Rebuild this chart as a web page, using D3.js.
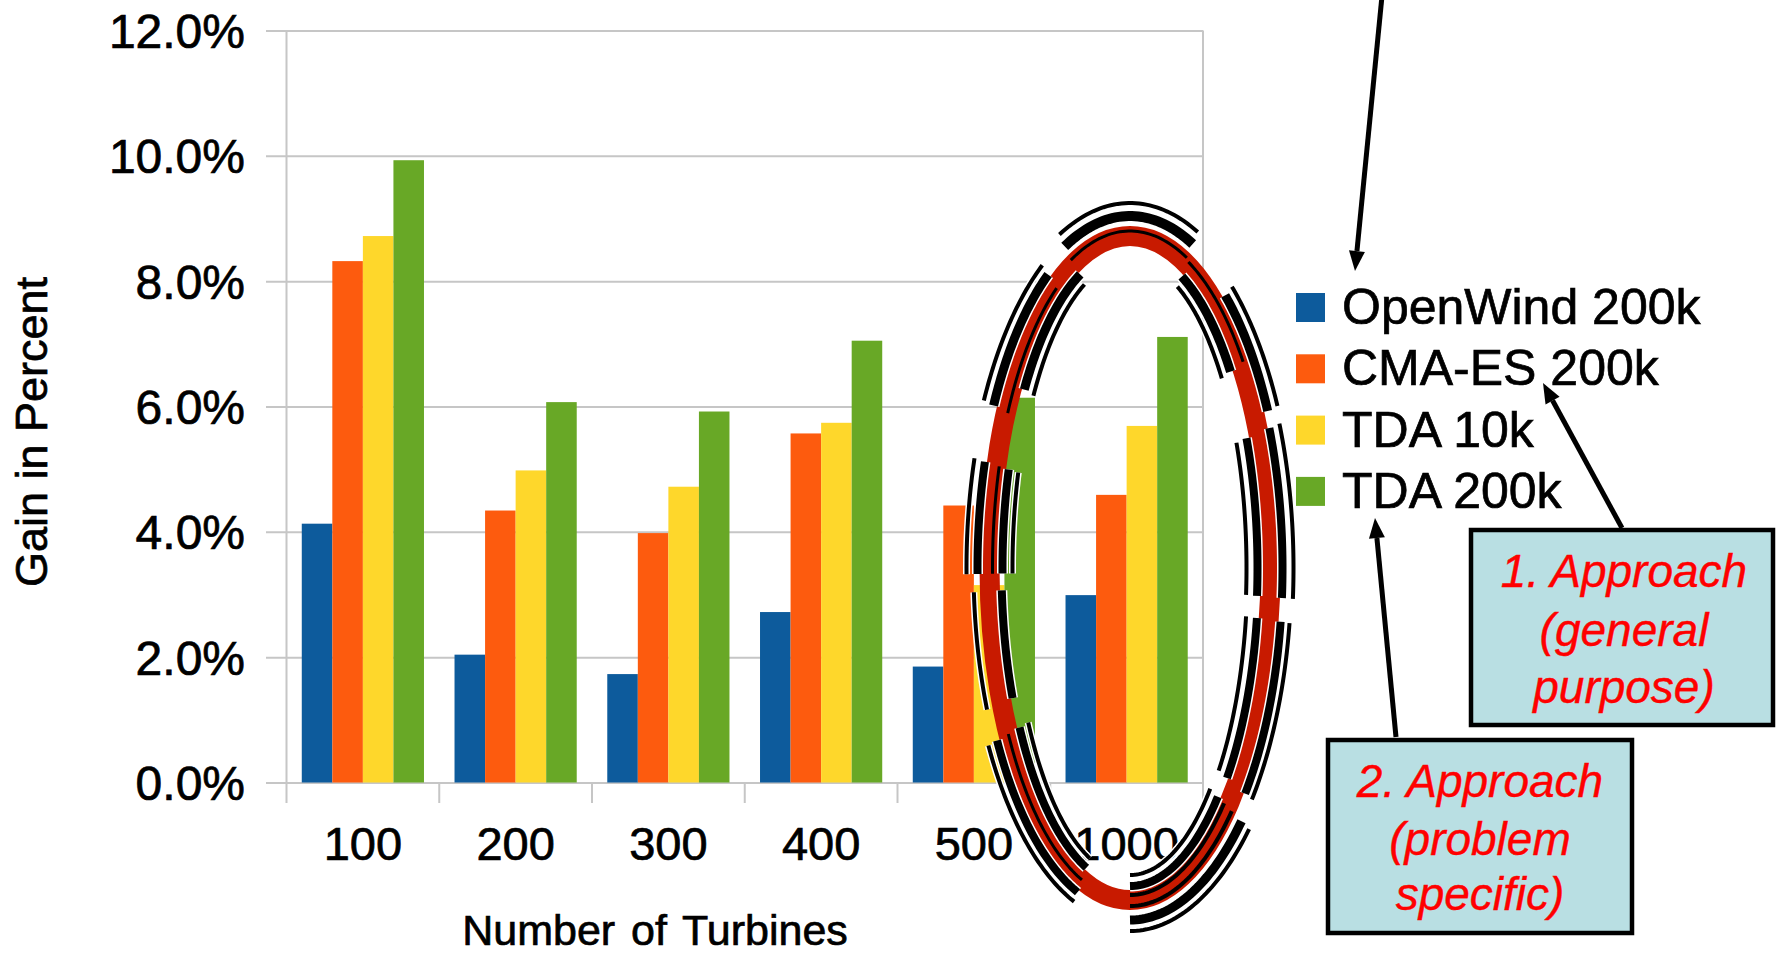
<!DOCTYPE html>
<html>
<head>
<meta charset="utf-8">
<script src="https://cdn.jsdelivr.net/npm/d3@7"></script>
<style>
  html, body { margin: 0; padding: 0; background: #ffffff; }
  svg { display: block; }
  text { font-family: "Liberation Sans", Arial, Helvetica, sans-serif; fill: #000; }
  .ink { stroke: #000; stroke-width: 0.7px; }
</style>
</head>
<body>
<svg id="chart" width="1777" height="953"></svg>
<script>
// ---- data -------------------------------------------------------------
const categories = ["100", "200", "300", "400", "500", "1000"];
const seriesNames = ["OpenWind 200k", "CMA-ES 200k", "TDA 10k", "TDA 200k"];
const openWind200k = [4.13, 2.04, 1.73, 2.72, 1.85, 2.99];
const cmaEs200k    = [8.32, 4.34, 3.98, 5.57, 4.42, 4.59];
const tda10k       = [8.72, 4.98, 4.72, 5.74, 3.15, 5.69];
const tda200k      = [9.93, 6.07, 5.92, 7.05, 6.14, 7.11];
const seriesColors = ["#0d5b9c", "#fd5b0e", "#fed72b", "#68a826"];
const yTicks = [0, 2, 4, 6, 8, 10, 12];
const xTitle = "Number of Turbines";
const yTitle = "Gain in Percent";
const noteGeneral = ["1. Approach", "(general", "purpose)"];
const noteSpecific = ["2. Approach", "(problem", "specific)"];

const seriesValues = [openWind200k, cmaEs200k, tda10k, tda200k];

// ---- layout -----------------------------------------------------------
const svg = d3.select("#chart");
const plot = { left: 286.5, right: 1203, top: 30.5, bottom: 782.5 };

const x = d3.scaleBand().domain(categories).range([plot.left, plot.right]).padding(0);
const bw = x.bandwidth();
const xs = d3.scaleBand().domain(seriesNames).range([0.1 * bw, 0.9 * bw]).padding(0);
const y = d3.scaleLinear().domain([0, 12]).range([plot.bottom, plot.top]);

const gridColor = "#c6c6c6";
const labelFont = "\"Liberation Sans\", Arial, sans-serif";

// horizontal gridlines + y tick labels
const yAxis = d3.axisLeft(y)
  .tickValues(yTicks)
  .tickSize(plot.right - 266)
  .tickPadding(21)
  .tickFormat(d => d.toFixed(1) + "%");
const gy = svg.append("g")
  .attr("transform", `translate(${plot.right},0)`)
  .call(yAxis);
gy.select(".domain").remove();
gy.selectAll(".tick line").attr("stroke", gridColor).attr("stroke-width", 2);
gy.selectAll(".tick text")
  .attr("class", "ink")
  .attr("dy", "0.355em")
  .style("font-size", "48px")
  .style("font-family", labelFont)
  .attr("fill", "#000");

// vertical frame lines and category separators
const boundaries = categories.map(c => x(c)).concat([plot.right]);
svg.append("g").selectAll("line")
  .data(boundaries)
  .join("line")
  .attr("x1", d => d).attr("x2", d => d)
  .attr("y1", (d, i) => (i === 0 || i === boundaries.length - 1) ? plot.top : plot.bottom)
  .attr("y2", plot.bottom + 20.5)
  .attr("stroke", gridColor)
  .attr("stroke-width", 2);

// bars
const barData = [];
categories.forEach((c, ci) => {
  seriesNames.forEach((s, si) => {
    barData.push({ cat: c, series: s, value: seriesValues[si][ci], color: seriesColors[si] });
  });
});
svg.append("g").selectAll("rect")
  .data(barData)
  .join("rect")
  .attr("x", d => x(d.cat) + xs(d.series))
  .attr("width", xs.bandwidth())
  .attr("y", d => y(d.value))
  .attr("height", d => y(0) - y(d.value))
  .attr("fill", d => d.color);

// x tick labels
const xAxis = d3.axisBottom(x).tickSize(0).tickPadding(44);
const gx = svg.append("g")
  .attr("transform", `translate(0,${plot.bottom})`)
  .call(xAxis);
gx.select(".domain").remove();
gx.selectAll(".tick text")
  .attr("class", "ink")
  .style("font-size", "47px")
  .style("font-family", labelFont)
  .attr("fill", "#000");

// axis titles
svg.append("text")
  .attr("class", "ink")
  .attr("x", 655).attr("y", 945)
  .attr("text-anchor", "middle")
  .style("font-size", "43px")
  .style("word-spacing", "4px")
  .text(xTitle);

svg.append("text")
  .attr("class", "ink")
  .attr("transform", "translate(47,432) rotate(-90)")
  .attr("text-anchor", "middle")
  .style("font-size", "45px")
  .text(yTitle);

// legend
const legend = svg.append("g").attr("transform", "translate(1296,293)");
const legendRow = legend.selectAll("g")
  .data(seriesNames)
  .join("g")
  .attr("transform", (d, i) => `translate(0,${i * 61.3})`);
legendRow.append("rect")
  .attr("width", 29).attr("height", 29)
  .attr("fill", (d, i) => seriesColors[i]);
legendRow.append("text")
  .attr("class", "ink")
  .attr("x", 46).attr("y", 31)
  .style("font-size", "50px")
  .text(d => d);

// ---- highlight ring round the last two groups ------------------------------
const ring = { cx: 1130, cy: 568, rx: 140.5, ry: 332 };
svg.append("ellipse")
  .attr("cx", ring.cx).attr("cy", ring.cy)
  .attr("rx", ring.rx).attr("ry", ring.ry)
  .attr("fill", "none")
  .attr("stroke", "#c81a00")
  .attr("stroke-width", 20);

// sketchy traced strokes along the ring: [start deg, end deg, [[offset, width], ...]]
const traces = [
  [-114, -67, [[33, 4], [20, 10], [5, 3]]],
  [-152, -122, [[25, 4], [14, 9], [-2, 3]]],
  [-146, -113, [[-13, 9], [-24, 4]]],
  [-66, -38, [[3, 3], [-13, 9], [-24, 4]]],
  [-52, -27, [[14, 9], [25, 4]]],
  [-162, -181, [[23, 4], [12, 8], [-3, 3], [-13, 8], [-23, 4]]],
  [176, 156, [[16, 4], [-12, 8]]],
  [-24, 5, [[23, 4], [12, 8], [-13, 8], [-24, 4]]],
  [9, 41, [[21, 4], [12, 8], [-12, 8], [-23, 4]]],
  [150, 110, [[23, 4], [13, 8], [0, 3], [-13, 8], [-23, 4]]],
  [90, 46, [[31, 4], [20, 9], [6, 4], [-5, 4], [-14, 8], [-25, 4]]]
];
const ringLine = d3.line();
function ringArc(offset, a0, a1) {
  const n = 40;
  return ringLine(d3.range(n + 1).map(k => {
    const t = (a0 + (a1 - a0) * k / n) * Math.PI / 180;
    return [ring.cx + (ring.rx + offset) * Math.cos(t), ring.cy + (ring.ry + offset) * Math.sin(t)];
  }));
}
const traceG = svg.append("g").attr("fill", "none");
traces.forEach(([a0, a1, layers]) => {
  layers.filter(([off]) => Math.abs(off) >= 12).forEach(([off, w]) => {
    traceG.append("path").attr("d", ringArc(off, a0, a1))
      .attr("stroke", "#ffffff").attr("stroke-width", w + 3);
  });
  layers.forEach(([off, w]) => {
    traceG.append("path").attr("d", ringArc(off, a0, a1))
      .attr("stroke", "#000000").attr("stroke-width", w);
  });
});

// ---- arrows -----------------------------------------------------------
function arrow(x1, y1, x2, y2) {
  const ang = Math.atan2(y2 - y1, x2 - x1);
  const len = 20, half = 8;
  const bx = x2 - len * Math.cos(ang), by = y2 - len * Math.sin(ang);
  svg.append("line")
    .attr("x1", x1).attr("y1", y1).attr("x2", bx).attr("y2", by)
    .attr("stroke", "#000").attr("stroke-width", 5);
  const px = -Math.sin(ang) * half, py = Math.cos(ang) * half;
  svg.append("path")
    .attr("d", `M${x2},${y2}L${bx + px},${by + py}L${bx - px},${by - py}Z`)
    .attr("fill", "#000");
}
arrow(1382, -4, 1355, 271);
arrow(1622, 528, 1543, 383);
arrow(1396, 737, 1375, 518);

// ---- annotation boxes -------------------------------------------------
function noteBox(bx, by, w, h, lines, cx, baselines) {
  svg.append("rect")
    .attr("x", bx).attr("y", by).attr("width", w).attr("height", h)
    .attr("fill", "#b9dfe3").attr("stroke", "#000").attr("stroke-width", 4.5);
  svg.append("g").selectAll("text")
    .data(lines)
    .join("text")
    .attr("x", cx).attr("y", (d, i) => baselines[i])
    .attr("text-anchor", "middle")
    .style("font-size", "46px")
    .style("font-style", "italic")
    .style("fill", "#ff0000")
    .style("stroke", "#ff0000")
    .style("stroke-width", "0.4px")
    .text(d => d);
}
noteBox(1471, 530, 302, 195, noteGeneral, 1624, [587, 646, 703]);
noteBox(1328, 740, 304, 193, noteSpecific, 1480, [797, 855, 910]);
</script>
</body>
</html>
